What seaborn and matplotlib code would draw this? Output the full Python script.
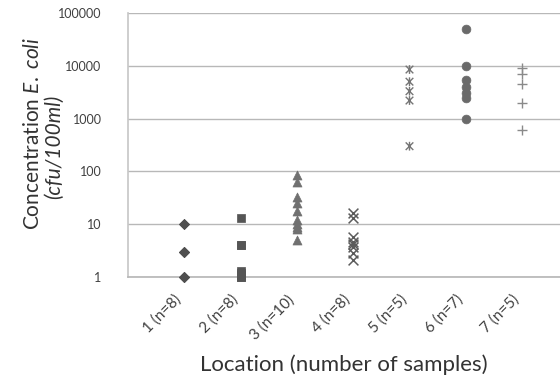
import matplotlib
matplotlib.use("Agg")
import matplotlib.pyplot as plt
from matplotlib.path import Path
from matplotlib.ticker import FixedLocator, NullLocator
import seaborn as sns
import pandas as pd

# ---- data ----
locations = ["1 (n=8)", "2 (n=8)", "3 (n=10)", "4 (n=8)", "5 (n=5)", "6 (n=7)", "7 (n=5)"]
loc1 = [1, 1, 1, 3, 3, 3, 10, 10]
loc2 = [1.0, 1.0, 1.1, 1.2, 1.3, 4, 4, 13]
loc3 = [5, 8, 9, 10, 12, 18, 25, 33, 63, 85]
loc4 = [2.1, 2.8, 3.7, 4.2, 4.6, 5.7, 13, 16]
loc5 = [300, 2200, 3300, 5000, 8500]
loc6 = [1000, 2500, 3000, 4000, 5500, 10000, 50000]
loc7 = [600, 2000, 4500, 7000, 9000]
series = [loc1, loc2, loc3, loc4, loc5, loc6, loc7]
y_ticks = [1, 10, 100, 1000, 10000, 100000]
y_ticklabels = ["1", "10", "100", "1000", "10000", "100000"]

star = Path([(-1, -1), (1, 1), (-1, 1), (1, -1), (0, -1.15), (0, 1.15)],
            [Path.MOVETO, Path.LINETO, Path.MOVETO, Path.LINETO, Path.MOVETO, Path.LINETO])
styles = [
    dict(marker="D", s=26, color="#4f4f4f", edgecolor="#4f4f4f", linewidth=0.5),
    dict(marker="s", s=38, color="#555555", edgecolor="#555555", linewidth=0.5),
    dict(marker="^", s=42, color="#707070", edgecolor="#707070", linewidth=0.5),
    dict(marker="x", s=50, color="#5c5c5c", linewidth=1.1),
    dict(marker=star, s=40, facecolor="none", edgecolor="#767676", linewidth=1.0),
    dict(marker="o", s=40, color="#6a6a6a", edgecolor="#6a6a6a", linewidth=0.5),
    dict(marker="+", s=55, color="#8a8a8a", linewidth=1.0),
]

sns.set_theme(style="white")
plt.rcParams["font.family"] = ["Lato", "DejaVu Sans"]
plt.rcParams["mathtext.fontset"] = "custom"
plt.rcParams["mathtext.rm"] = "Lato"
plt.rcParams["mathtext.it"] = "Lato:italic"

fig = plt.figure(figsize=(5.6, 3.78), dpi=100)
ax = fig.add_axes([128 / 560, (378 - 277) / 378, 1 - 128 / 560, (277 - 13) / 378])

for i, vals in enumerate(series):
    df = pd.DataFrame({"x": [i + 1] * len(vals), "y": vals})
    sns.scatterplot(data=df, x="x", y="y", ax=ax, legend=False, zorder=3,
                    clip_on=False, **styles[i])

ax.set_yscale("log")
ax.set_ylim(1, 100000)
ax.set_xlim(0, (560 - 128) / 56.3)
ax.yaxis.set_major_locator(FixedLocator(y_ticks))
ax.yaxis.set_minor_locator(NullLocator())
ax.set_yticklabels(y_ticklabels)
ax.set_xticks(range(1, 8))
ax.set_xticklabels(locations, rotation=45, ha="right", rotation_mode="default")

ax.grid(axis="y", color="#b8b8b8", linewidth=1.0, zorder=0)
ax.grid(axis="x", visible=False)
for side in ["top", "right"]:
    ax.spines[side].set_visible(False)
ax.spines["left"].set_color("#c8c8c8")
ax.spines["bottom"].set_color("#b8b8b8")
ax.tick_params(axis="y", length=3, color="#b8b8b8", pad=16, labelsize=9, labelcolor="#404040")
ax.tick_params(axis="x", length=0, pad=11, labelsize=11, labelcolor="#404040")

ax.set_xlabel("Location (number of samples)", fontsize=16, color="#333333", labelpad=9)
ax.set_ylabel("")
fig.text(33 / 560, 1 - 133 / 378, "Concentration $\\it{E.}$ $\\it{coli}$", rotation=90,
         ha="center", va="center", fontsize=15, color="#333333")
fig.text(54 / 560, 1 - 147 / 378, "(cfu/100ml)", rotation=90, style="italic",
         ha="center", va="center", fontsize=15, color="#333333")

fig.savefig("out.png", dpi=100, facecolor="white")
